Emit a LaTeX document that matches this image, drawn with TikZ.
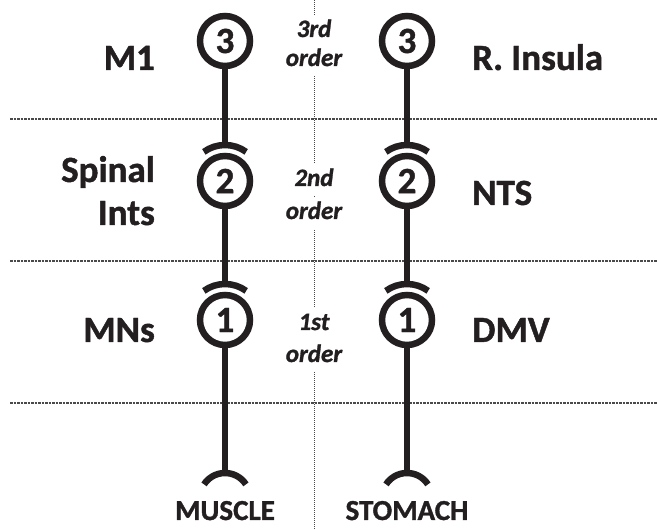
\documentclass[tikz,border=0pt]{standalone}
\usepackage{fontspec}
\setmainfont{Carlito}[BoldFeatures={FakeBold=1.2}, BoldItalicFeatures={FakeBold=1.2}]
\definecolor{ink}{HTML}{231F20}
\definecolor{rule}{HTML}{4A4A4A}
\tikzset{
  soma/.style={circle, draw=ink, line width=6.5pt, minimum size=50pt, inner sep=0pt,
    font=\fontsize{37}{37}\selectfont\bfseries, text=ink},
  axon/.style={draw=ink, line width=6.5pt},
  region/.style={font=\fontsize{37}{40}\selectfont\bfseries, text=ink, inner sep=0pt},
  target/.style={font=\fontsize{29}{32}\selectfont\bfseries, text=ink, inner sep=0pt},
  orderlbl/.style={font=\fontsize{25}{28}\selectfont\bfseries\itshape, text=ink,
    fill=white, text height=18pt, text depth=6pt, inner xsep=2pt, inner ysep=4pt},
  levelrule/.style={draw=rule, line width=1.2pt, dash pattern=on 2.5pt off 1pt},
  midrule/.style={draw=rule, line width=1pt, dash pattern=on 1pt off 1pt},
}
\begin{document}
\begin{tikzpicture}[x=1pt,y=1pt]
\useasboundingbox (0,0) rectangle (657,-529);

% level separators
\coordinate (r1a) at (10,-119);  \coordinate (r1b) at (657,-119);
\coordinate (r2a) at (10,-261);  \coordinate (r2b) at (657,-261);
\coordinate (r3a) at (10,-403);  \coordinate (r3b) at (657,-403);
\draw[levelrule] (r1a) -- (r1b);
\draw[levelrule] (r2a) -- (r2b);
\draw[levelrule] (r3a) -- (r3b);

% central divider
\coordinate (mtop) at (314,0);
\coordinate (mbot) at (314,-529);
\draw[midrule] (mtop) -- (mbot);

% order labels
\node[orderlbl, anchor=base] (o3a) at (314,-37) {3rd};
\node[orderlbl, anchor=base] (o3b) at (314,-66) {order};
\node[orderlbl, anchor=base] (o2a) at (314,-186) {2nd};
\node[orderlbl, anchor=base] (o2b) at (314,-219) {order};
\node[orderlbl, anchor=base] (o1a) at (314,-330) {1st};
\node[orderlbl, anchor=base] (o1b) at (314,-362) {order};

% somatic chain
\node[soma] (m3) at (225,-41) {3};
\node[soma] (m2) at (225,-181) {2};
\node[soma] (m1) at (225,-320) {1};
\coordinate (mend) at (225,-473);
\coordinate (mendc) at (225,-498);

% visceral chain
\node[soma] (v3) at (407,-41) {3};
\node[soma] (v2) at (407,-181) {2};
\node[soma] (v1) at (407,-320) {1};
\coordinate (vend) at (407,-473);
\coordinate (vendc) at (407,-498);

% axons and synaptic caps
\foreach \a/\b in {m3/m2, m2/m1, v3/v2, v2/v1}{
  \draw[axon] (\a.south) -- ([yshift=36pt]\b.center);
  \draw[axon] ([shift={(54:36pt)}]\b.center) arc[start angle=54, end angle=126, radius=36pt];
}
\draw[axon] (m1.south) -- (mend);
\draw[axon] ([shift={(33:25pt)}]mendc) arc[start angle=33, end angle=147, radius=25pt];
\draw[axon] (v1.south) -- (vend);
\draw[axon] ([shift={(33:25pt)}]vendc) arc[start angle=33, end angle=147, radius=25pt];

% region names
\node[region, anchor=base east] (lm1) at (155,-70) {M1};
\node[region, anchor=base east] (lsp) at (155,-182) {Spinal};
\node[region, anchor=base east] (lin) at (155,-225) {Ints};
\node[region, anchor=base east] (lmn) at (155,-342) {MNs};
\node[region, anchor=base west] (lri) at (472,-70) {R. Insula};
\node[region, anchor=base west] (lnts) at (472,-205) {NTS};
\node[region, anchor=base west] (ldmv) at (472,-342) {DMV};

% targets
\node[target, anchor=base] (tm) at (225,-520) {MUSCLE};
\node[target, anchor=base] (ts) at (407,-520) {STOMACH};
\end{tikzpicture}
\end{document}
